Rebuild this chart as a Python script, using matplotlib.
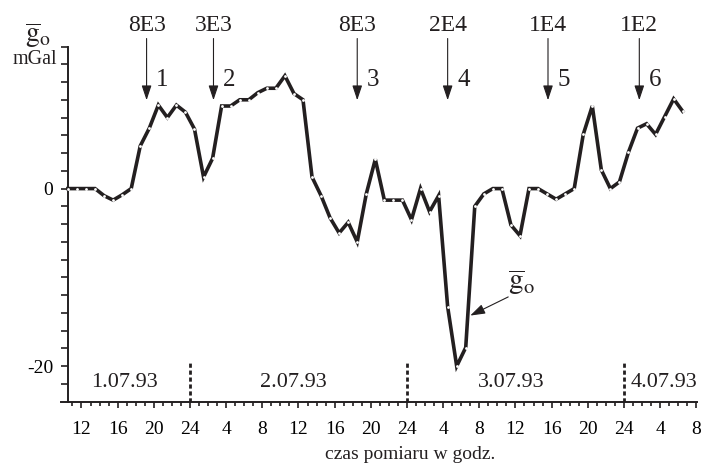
import matplotlib
matplotlib.use('Agg')
import matplotlib.pyplot as plt
import numpy as np

plt.rcParams['font.family'] = ['Liberation Serif', 'DejaVu Serif']
plt.rcParams['mathtext.fontset'] = 'stix'

# hours counted from midnight of 1.07.93 (24 = midnight 1/2 July)
hours = np.arange(10.5, 79.0, 1.0)
g_o = [0, 0, 0, 0, -0.8, -1.3, -0.7, 0, 4.8, 6.8,
       9.4, 8.0, 9.4, 8.6, 6.7, 1.3, 3.4, 9.3, 9.3, 10.0,
       10.0, 10.8, 11.3, 11.3, 12.7, 10.7, 10.0, 1.3, -0.8, -3.3,
       -5.0, -3.8, -6.0, -0.6, 3.3, -1.3, -1.3, -1.3, -3.5, 0,
       -2.6, -0.8, -13.3, -20.0, -17.9, -2.0, -0.6, 0, 0, -4.1,
       -5.3, 0, 0, -0.6, -1.2, -0.6, 0, 6.1, 9.3, 2.1,
       0, 0.75, 4.1, 6.8, 7.3, 6.1, 8.1, 10.1, 8.7]

event_hours = [19.2, 26.6, 42.5, 52.5, 63.6, 73.7]
event_energy = ['8E3', '3E3', '8E3', '2E4', '1E4', '1E2']
event_numbers = ['1', '2', '3', '4', '5', '6']

day_breaks = [24, 48, 72]
day_labels = ['1.07.93', '2.07.93', '3.07.93', '4.07.93']
day_label_hours = [16.8, 35.4, 59.5, 76.4]

tick_hours = np.arange(12, 81, 4)
tick_labels = [str(int(h % 24)) if h % 24 else '24' for h in tick_hours]

ink = '#231f20'

fig = plt.figure(figsize=(7.01, 4.69), dpi=100)
ax = fig.add_axes([0.084, 0.1435, 0.9157, 0.852])
ax.set_xlim(9.5, 80.5)
ax.set_ylim(-24, 21)

ax.plot(hours, g_o, color=ink, lw=2.6, marker='o', ms=2.0,
        mfc='white', mec='white', mew=0, solid_joinstyle='miter', zorder=3)

# spines
for s in ['top', 'right']:
    ax.spines[s].set_visible(False)
ax.spines['left'].set_position(('data', 10.5))
ax.spines['left'].set_bounds(-24, 16)
ax.spines['bottom'].set_bounds(9.7, 80.1)
for s in ['left', 'bottom']:
    ax.spines[s].set_linewidth(1.4)
    ax.spines[s].set_color(ink)

# y ticks
ax.set_yticks(np.arange(-22, 17, 2))
ax.set_yticklabels(['-20' if v == -20 else ('0' if v == 0 else '')
                    for v in np.arange(-22, 17, 2)])
ax.tick_params(axis='y', direction='out', length=5, width=1.2,
               color=ink, labelsize=14, pad=5.5)

# x ticks
ax.set_xticks(tick_hours)
ax.set_xticklabels(tick_labels)
ax.set_xticks(np.arange(11, 81, 1), minor=True)
ax.tick_params(axis='x', which='major', direction='out', length=4.5,
               width=1.2, color=ink, labelsize=14, pad=9.5)
ax.tick_params(axis='x', which='minor', direction='out', length=3,
               width=1.2, color=ink)

# day separators and dates
for h in day_breaks:
    ax.plot([h, h], [-24, -19.6], color=ink, lw=2, ls=(0, (1.5, 1)),
            zorder=2)
for h, lab in zip(day_label_hours, day_labels):
    ax.text(h, -21.8, lab, ha='center', va='center', fontsize=16, color=ink)

# event arrows
for h, e, n in zip(event_hours, event_energy, event_numbers):
    ax.annotate('', xy=(h, 9.95), xytext=(h, 16.9),
                arrowprops=dict(arrowstyle='-|>,head_length=0.9,head_width=0.3',
                                lw=0.8, color=ink, shrinkA=0, shrinkB=0,
                                mutation_scale=10))
    ax.text(h, 18.4, e, ha='center', va='center', fontsize=17, color=ink)
    ax.text(h + 1.75, 12.2, n, ha='center', va='center', fontsize=18,
            color=ink)

# g_o label with arrow near the minimum
ax.annotate('', xy=(55.0, -14.3), xytext=(59.2, -12.2),
            arrowprops=dict(arrowstyle='-|>,head_length=0.9,head_width=0.3',
                            lw=0.8, color=ink, shrinkA=0, shrinkB=0,
                            mutation_scale=10))
ax.text(60.7, -10.6, r'$\overline{\mathrm{g}}_{\mathrm{o}}$', ha='center',
        va='center', fontsize=21, color=ink)

# y axis title
fig.text(0.054, 0.925, r'$\overline{\mathrm{g}}_{\mathrm{o}}$', ha='center',
         va='center', fontsize=20, color=ink)
fig.text(0.0504, 0.8736, 'mGal', ha='center', va='center', fontsize=14.5,
         color=ink)

fig.text(0.585, 0.03, 'czas pomiaru w godz.', ha='center', va='center',
         fontsize=14, color=ink)

fig.savefig('out.png', dpi=100)
